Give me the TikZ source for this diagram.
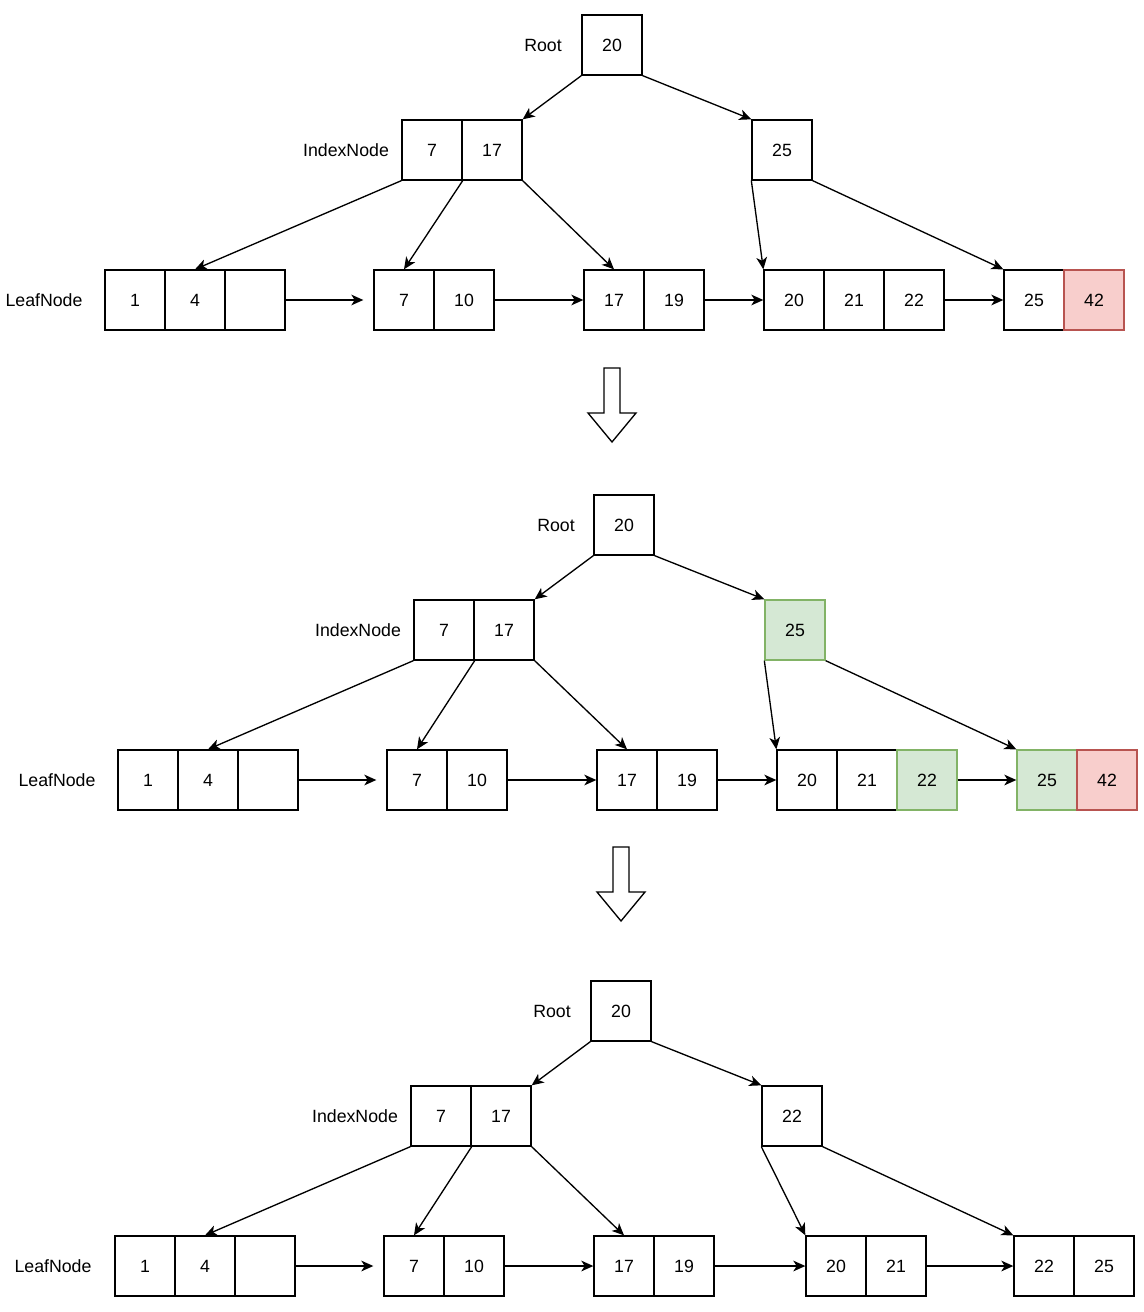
\documentclass[tikz,border=0pt]{standalone}
\usepackage{fontspec}
\setmainfont{Liberation Sans}
\usetikzlibrary{arrows.meta}
\definecolor{redfill}{HTML}{F8CECC}
\definecolor{redline}{HTML}{B85450}
\definecolor{greenfill}{HTML}{D5E8D4}
\definecolor{greenline}{HTML}{82B366}
\tikzset{
  cell/.style={draw, line width=1pt, minimum width=45pt, minimum height=45pt, inner sep=0pt, font=\fontsize{13.3}{16}\selectfont},
  redcell/.style={cell, draw=redline, fill=redfill},
  greencell/.style={cell, draw=greenline, fill=greenfill},
  lbl/.style={inner sep=0pt, font=\fontsize{13.3}{16}\selectfont},
  link/.style={line width=1pt, -{Stealth[length=9pt, width=8pt, inset=2.5pt]}},
  bigarrow/.style={draw, line width=1pt, fill=white}
}
\begin{document}
\begin{tikzpicture}[x=0.75pt, y=-0.75pt]
\useasboundingbox (0,0) rectangle (1144,1312);
% ---------- Section 1 ----------
\node[lbl] (r1lbl) at (543,45) {Root};
\node[cell] (r1) at (612,45) {20};
\node[lbl] (i1lbl) at (346,150) {IndexNode};
\node[cell] (i1a) at (432,150) {7};
\node[cell] (i1b) at (492,150) {17};
\node[cell] (i1c) at (782,150) {25};
\node[lbl] (l1lbl) at (44,300) {LeafNode};
\node[cell] (l1a) at (135,300) {1};
\node[cell] (l1b) at (195,300) {4};
\node[cell] (l1c) at (255,300) {};
\node[cell] (l1d) at (404,300) {7};
\node[cell] (l1e) at (464,300) {10};
\node[cell] (l1f) at (614,300) {17};
\node[cell] (l1g) at (674,300) {19};
\node[cell] (l1h) at (794,300) {20};
\node[cell] (l1i) at (854,300) {21};
\node[cell] (l1j) at (914,300) {22};
\node[cell] (l1k) at (1034,300) {25};
\node[redcell] (l1l) at (1094,300) {42};
\draw[link] (r1.south west) -- (i1b.north east);
\draw[link] (r1.south east) -- (i1c.north west);
\draw[link] (i1a.south west) -- (l1b.north);
\draw[link] (i1a.south east) -- (l1d.north);
\draw[link] (i1b.south east) -- (l1f.north);
\draw[link] (i1c.south west) -- (l1h.north west);
\draw[link] (i1c.south east) -- (l1k.north west);
\draw[link, shorten >=7.5pt] (l1c.east) -- (l1d.west);
\draw[link] (l1e.east) -- (l1f.west);
\draw[link] (l1g.east) -- (l1h.west);
\draw[link] (l1j.east) -- (l1k.west);
% down arrow 1
\draw[bigarrow] (604,368) -- (620,368) -- (620,413) -- (636,413) -- (612,442) -- (588,413) -- (604,413) -- cycle;
% ---------- Section 2 ----------
\node[lbl] (r2lbl) at (556,525) {Root};
\node[cell] (r2) at (624,525) {20};
\node[lbl] (i2lbl) at (358,630) {IndexNode};
\node[cell] (i2a) at (444,630) {7};
\node[cell] (i2b) at (504,630) {17};
\node[greencell] (i2c) at (795,630) {25};
\node[lbl] (l2lbl) at (57,780) {LeafNode};
\node[cell] (l2a) at (148,780) {1};
\node[cell] (l2b) at (208,780) {4};
\node[cell] (l2c) at (268,780) {};
\node[cell] (l2d) at (417,780) {7};
\node[cell] (l2e) at (477,780) {10};
\node[cell] (l2f) at (627,780) {17};
\node[cell] (l2g) at (687,780) {19};
\node[cell] (l2h) at (807,780) {20};
\node[cell] (l2i) at (867,780) {21};
\node[greencell] (l2j) at (927,780) {22};
\node[greencell] (l2k) at (1047,780) {25};
\node[redcell] (l2l) at (1107,780) {42};
\draw[link] (r2.south west) -- (i2b.north east);
\draw[link] (r2.south east) -- (i2c.north west);
\draw[link] (i2a.south west) -- (l2b.north);
\draw[link] (i2a.south east) -- (l2d.north);
\draw[link] (i2b.south east) -- (l2f.north);
\draw[link] (i2c.south west) -- (l2h.north west);
\draw[link] (i2c.south east) -- (l2k.north west);
\draw[link, shorten >=7.5pt] (l2c.east) -- (l2d.west);
\draw[link] (l2e.east) -- (l2f.west);
\draw[link] (l2g.east) -- (l2h.west);
\draw[link] (l2j.east) -- (l2k.west);
% down arrow 2
\draw[bigarrow] (613,847) -- (629,847) -- (629,892) -- (645,892) -- (621,921) -- (597,892) -- (613,892) -- cycle;
% ---------- Section 3 ----------
\node[lbl] (r3lbl) at (552,1011) {Root};
\node[cell] (r3) at (621,1011) {20};
\node[lbl] (i3lbl) at (355,1116) {IndexNode};
\node[cell] (i3a) at (441,1116) {7};
\node[cell] (i3b) at (501,1116) {17};
\node[cell] (i3c) at (792,1116) {22};
\node[lbl] (l3lbl) at (53,1266) {LeafNode};
\node[cell] (l3a) at (145,1266) {1};
\node[cell] (l3b) at (205,1266) {4};
\node[cell] (l3c) at (265,1266) {};
\node[cell] (l3d) at (414,1266) {7};
\node[cell] (l3e) at (474,1266) {10};
\node[cell] (l3f) at (624,1266) {17};
\node[cell] (l3g) at (684,1266) {19};
\node[cell] (l3h) at (836,1266) {20};
\node[cell] (l3i) at (896,1266) {21};
\node[cell] (l3j) at (1044,1266) {22};
\node[cell] (l3k) at (1104,1266) {25};
\draw[link] (r3.south west) -- (i3b.north east);
\draw[link] (r3.south east) -- (i3c.north west);
\draw[link] (i3a.south west) -- (l3b.north);
\draw[link] (i3a.south east) -- (l3d.north);
\draw[link] (i3b.south east) -- (l3f.north);
\draw[link] (i3c.south west) -- (l3h.north west);
\draw[link] (i3c.south east) -- (l3j.north west);
\draw[link, shorten >=7.5pt] (l3c.east) -- (l3d.west);
\draw[link] (l3e.east) -- (l3f.west);
\draw[link] (l3g.east) -- (l3h.west);
\draw[link] (l3i.east) -- (l3j.west);
\end{tikzpicture}
\end{document}
